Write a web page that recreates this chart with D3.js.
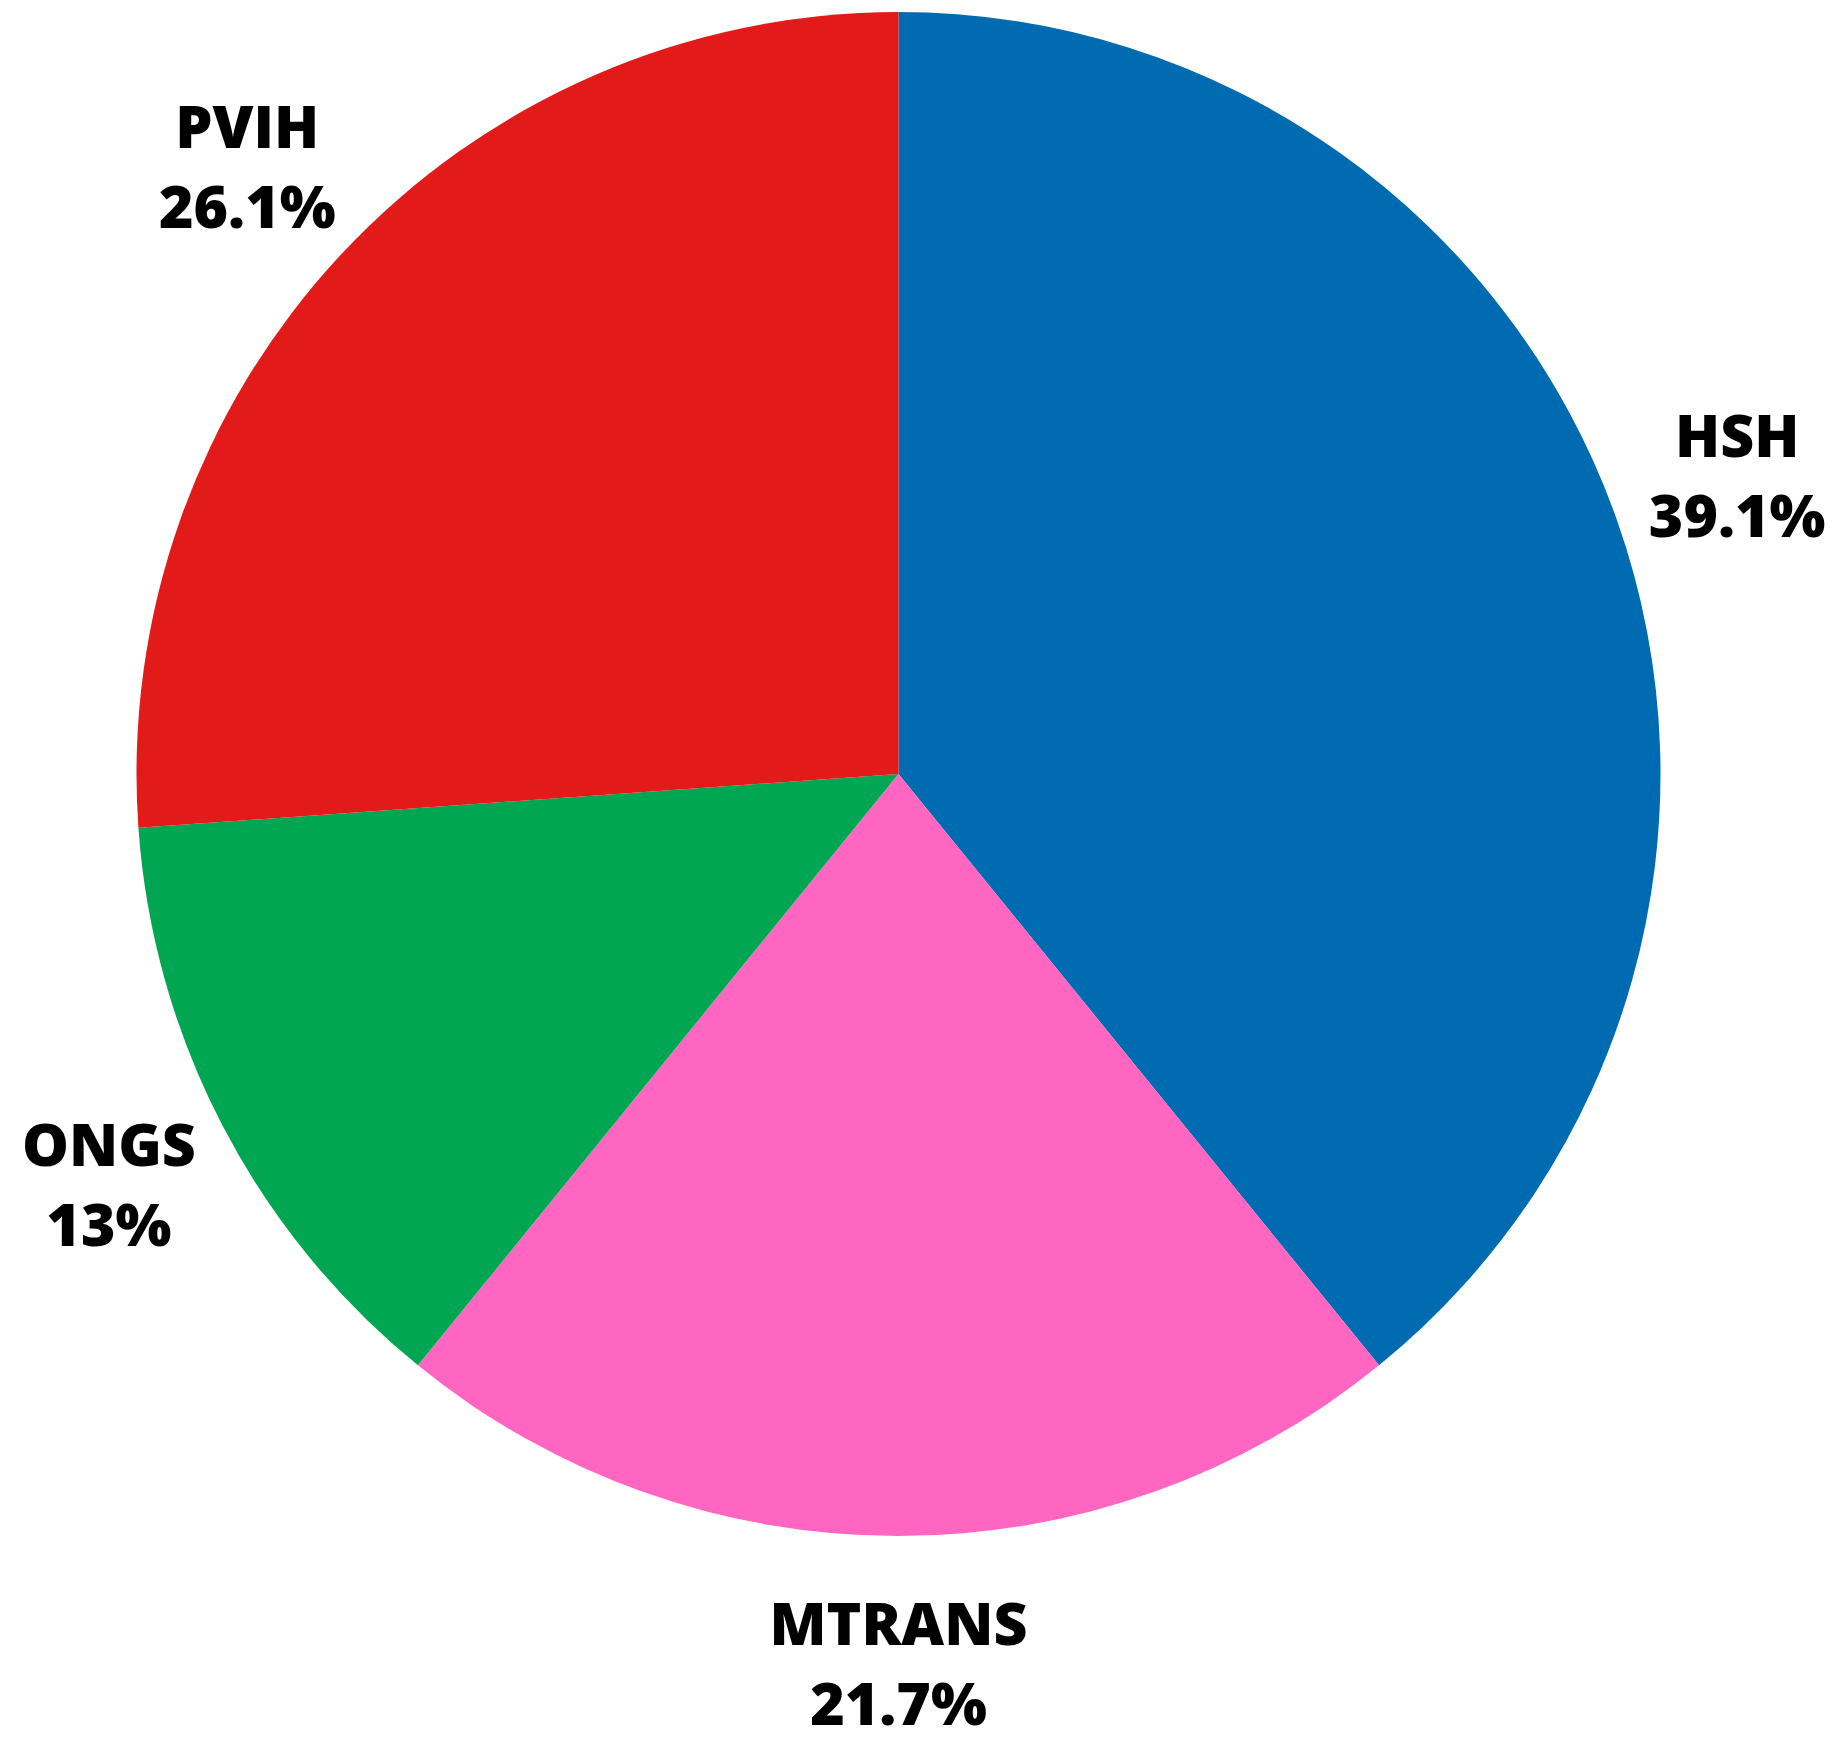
<!DOCTYPE html>
<html><head><meta charset="utf-8">
<script src="https://cdn.jsdelivr.net/npm/d3@7"></script>
<style>html,body{margin:0;padding:0;background:#fff;}</style>
</head><body>
<svg id="chart" width="1844" height="1740"></svg>
<script>
const categories = ["HSH", "MTRANS", "ONGS", "PVIH"];
const values = [39.1, 21.7, 13, 26.1];
const valueLabels = ["39.1%", "21.7%", "13%", "26.1%"];
const colors = ["#006BB0", "#FF66C2", "#00A651", "#E21A1A"];

const data = categories.map((c, i) => ({cat: c, value: values[i], label: valueLabels[i], color: colors[i]}));
const svg = d3.select("#chart");
const cx = 898.5, cy = 774, R = 762, LR = 890;
const g = svg.append("g").attr("transform", `translate(${cx},${cy})`);
const pie = d3.pie().value(d => d.value).sort(null);
const arc = d3.arc().innerRadius(0).outerRadius(R);
const labelArc = d3.arc().innerRadius(LR).outerRadius(LR);
const arcs = pie(data);
g.selectAll("path").data(arcs).join("path")
  .attr("d", arc).attr("fill", d => d.data.color);
const t = g.selectAll("text").data(arcs).join("text")
  .attr("text-anchor", "middle")
  .attr("font-family", "'Open Sans', sans-serif")
  .attr("font-weight", 800)
  .attr("font-size", 59)
  .attr("fill", "#000");
t.each(function(d) {
  const [x, y] = labelArc.centroid(d);
  const s = d3.select(this);
  s.append("tspan").attr("x", x).attr("y", y - 19).text(d.data.cat);
  s.append("tspan").attr("x", x).attr("y", y + 61).text(d.data.label);
});
</script>
</body></html>
